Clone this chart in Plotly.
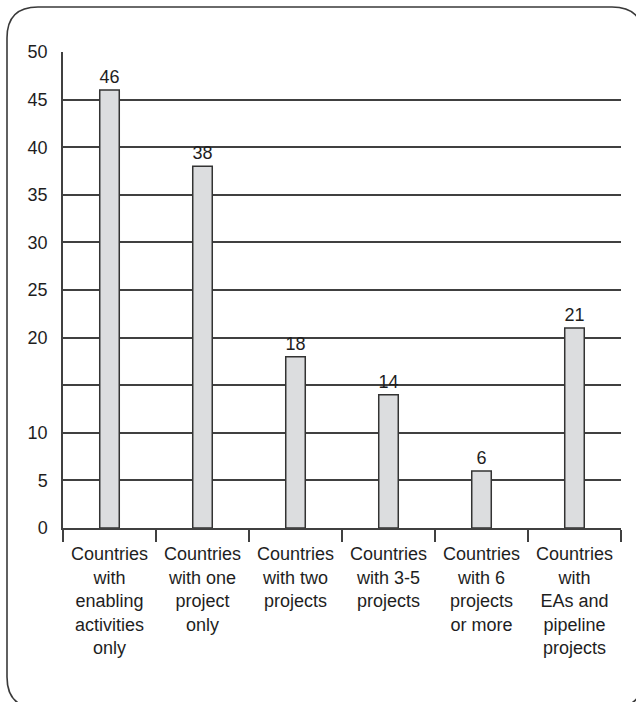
import plotly.graph_objects as go

# Category labels (line-broken as printed under the axis)
categories = [
    "Countries<br>with<br>enabling<br>activities<br>only",
    "Countries<br>with one<br>project<br>only",
    "Countries<br>with two<br>projects",
    "Countries<br>with 3-5<br>projects",
    "Countries<br>with 6<br>projects<br>or more",
    "Countries<br>with<br>EAs and<br>pipeline<br>projects",
]
country_counts = [46, 38, 18, 14, 6, 21]

y_tick_values = [0, 5, 10, 15, 20, 25, 30, 35, 40, 45, 50]
y_tick_labels = ["0", "5", "10", "", "20", "25", "30", "35", "40", "45", "50"]

W, H = 636, 702
ML, MR, MT, MB = 63, 15, 52, 174
PW, PH = W - ML - MR, H - MT - MB

FONT = "Liberation Sans, Arial, Helvetica, sans-serif"
INK = "#1e1e1e"
LINE = "#404040"

fig = go.Figure(
    go.Bar(
        x=categories,
        y=country_counts,
        width=0.21,
        marker=dict(color="#dcdddf", line=dict(color="#333333", width=1.5)),
        text=[str(v) for v in country_counts],
        textposition="outside",
        constraintext="none",
        textfont=dict(family=FONT, size=18, color=INK),
        cliponaxis=False,
        hoverinfo="skip",
    )
)


def px_x(px):
    return (px - ML) / PW


def px_y(py):
    return (H - MB - py) / PH


# Rounded frame around the whole figure
left, top, right, bottom, r = 7, 7, 643, 708, 31
path = (
    f"M {px_x(left)},{px_y(top + r)} "
    f"L {px_x(left)},{px_y(bottom - r)} "
    f"Q {px_x(left)},{px_y(bottom)} {px_x(left + r)},{px_y(bottom)} "
    f"L {px_x(right - r)},{px_y(bottom)} "
    f"Q {px_x(right)},{px_y(bottom)} {px_x(right)},{px_y(bottom - r)} "
    f"L {px_x(right)},{px_y(top + r)} "
    f"Q {px_x(right)},{px_y(top)} {px_x(right - r)},{px_y(top)} "
    f"L {px_x(left + r)},{px_y(top)} "
    f"Q {px_x(left)},{px_y(top)} {px_x(left)},{px_y(top + r)} Z"
)
fig.add_shape(
    type="path", path=path, xref="paper", yref="paper",
    line=dict(color="#3a3a3a", width=1.6), fillcolor="rgba(0,0,0,0)",
    layer="above",
)

fig.update_layout(
    width=W, height=H,
    margin=dict(l=ML, r=MR, t=MT, b=MB, autoexpand=False),
    paper_bgcolor="white", plot_bgcolor="white",
    showlegend=False,
    font=dict(family=FONT, color=INK),
)
fig.update_xaxes(
    type="category",
    range=[-0.5, 5.5],
    showgrid=False,
    showline=True, linecolor=LINE, linewidth=1.5,
    ticks="outside", tickson="boundaries", ticklen=12, tickwidth=1.5, tickcolor=LINE,
    tickfont=dict(family=FONT, size=18, color=INK),
    tickangle=0, ticklabelstandoff=9,
    zeroline=False,
)
fig.update_yaxes(
    range=[0, 50],
    tickmode="array", tickvals=y_tick_values, ticktext=y_tick_labels,
    showgrid=True, gridcolor=LINE, gridwidth=1.5,
    showline=True, linecolor=LINE, linewidth=1.5,
    ticks="", ticklabelstandoff=10,
    tickfont=dict(family=FONT, size=18, color=INK),
    zeroline=False,
)

fig.write_html("out.html")
